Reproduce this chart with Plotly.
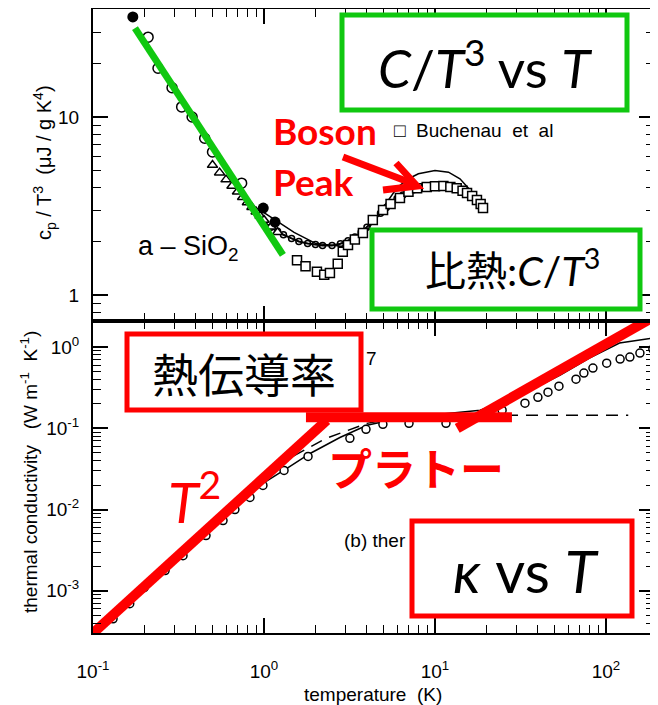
import plotly.graph_objects as go

# ---------------- data: top panel  (C/T^3 vs T) ----------------
t_fill = [0.171, 0.99, 1.16]
c_fill = [36.5, 3.08, 2.57]

t_open = [0.21, 0.24, 0.29, 0.33, 0.38, 0.45, 0.50, 0.74]
c_open = [28.1, 18.8, 14.6, 11.4, 10.0, 7.6, 6.36, 4.25]

t_tri = [0.50, 0.55, 0.60, 0.65, 0.70, 0.75, 0.80, 0.85, 0.90, 0.95, 1.00, 1.10, 1.20]
c_tri = [5.37, 4.87, 4.45, 4.10, 3.80, 3.54, 3.31, 3.11, 2.94, 2.78, 2.64, 2.42, 2.25]

t_dense = [1.0, 1.1, 1.2, 1.3, 1.45, 1.6, 1.8, 2.0, 2.2, 2.5, 2.8, 3.1, 3.4, 3.7,
           4.0, 4.4, 4.8, 5.2, 5.6, 6.0, 6.5, 7.0, 7.5, 8.0]
c_dense = [2.55, 2.40, 2.28, 2.18, 2.08, 2.00, 1.95, 1.92, 1.90, 1.90, 1.94, 2.02, 2.12, 2.25,
           2.40, 2.62, 2.88, 3.10, 3.30, 3.48, 3.65, 3.80, 3.90, 3.98]

t_sq = [1.56, 1.75, 2.04, 2.25, 2.43, 2.70, 2.89, 3.10, 3.40, 3.79, 4.33, 4.97, 5.5, 6.24,
        7.0, 7.86, 8.95, 10.0, 11.2, 12.3, 13.4, 14.5, 15.4, 16.5, 17.6, 18.5, 19.1]
c_sq = [1.57, 1.45, 1.35, 1.30, 1.33, 1.50, 1.75, 1.91, 2.05, 2.23, 2.64, 3.00, 3.25, 3.51,
        3.80, 3.98, 4.05, 4.08, 4.10, 4.05, 3.98, 3.85, 3.74, 3.60, 3.42, 3.25, 3.08]

t_fit = [1.0, 1.5, 2.0, 3.0, 4.0, 5.0, 6.0, 7.0, 8.0, 10.0, 12.0, 14.0, 16.0, 18.0, 20.0]
c_fit = [2.9, 2.25, 1.95, 1.87, 2.3, 3.1, 4.0, 4.5, 4.8, 5.0, 4.9, 4.5, 3.9, 3.5, 3.2]

t_green = [0.176, 1.29]
c_green = [31.6, 1.68]

# ---------------- data: bottom panel (kappa vs T) ----------------
t_k = [0.131, 0.164, 0.199, 0.264, 0.336, 0.458, 0.576, 0.676, 0.828, 0.986, 1.31, 1.81,
       3.18, 3.95, 4.96, 7.05, 11.6, 24.7, 33.6, 40.0, 45.8, 53.1, 66.8, 74.3, 83.9,
       101, 121, 138, 158, 188]
k_k = [4.51e-4, 6.92e-4, 1.09e-3, 1.77e-3, 2.70e-3, 4.78e-3, 7.31e-3, 1.0e-2, 1.41e-2,
       1.98e-2, 3.03e-2, 4.51e-2, 7.53e-2, 9.72e-2, 0.112, 0.115, 0.115, 0.167, 0.204,
       0.241, 0.278, 0.330, 0.403, 0.478, 0.551, 0.634, 0.711, 0.753, 0.843, 0.945]

t_ksolid = [0.1, 0.2, 0.5, 0.986, 1.42, 1.86, 2.78, 4.0, 6.2, 10.7, 18.4, 31.5, 54, 80, 120, 191]
k_ksolid = [2.6e-4, 1.05e-3, 6.2e-3, 2.1e-2, 0.034, 0.049, 0.077, 0.109, 0.133, 0.149, 0.167,
            0.255, 0.451, 0.731, 1.12, 1.30]

t_kdash = [1.0, 1.24, 2.3, 4.0, 6.0, 10.0, 20.0, 50.0, 135.0]
k_kdash = [0.022, 0.037, 0.075, 0.115, 0.135, 0.145, 0.145, 0.145, 0.145]

t_red1 = [0.096, 2.33]
k_red1 = [2.78e-4, 0.1256]
t_red2 = [1.76, 28.2]
k_red2 = [0.137, 0.137]
t_red3 = [13.5, 199]
k_red3 = [0.10, 2.48]

# ---------------- ticks ----------------
x_major = [0.1, 1, 10, 100]
x_major_text = ["10<sup>-1</sup>", "10<sup>0</sup>", "10<sup>1</sup>", "10<sup>2</sup>"]
x_minor = [0.2, 0.3, 0.4, 0.5, 0.6, 0.7, 0.8, 0.9, 2, 3, 4, 5, 6, 7, 8, 9,
           20, 30, 40, 50, 60, 70, 80, 90]
ytop_major = [1, 10]
ytop_text = ["1", "10"]
ytop_minor = [0.8, 0.9, 2, 3, 4, 5, 6, 7, 8, 9, 20, 30]
ybot_major = [1e-3, 1e-2, 1e-1, 1]
ybot_text = ["10<sup>-3</sup>", "10<sup>-2</sup>", "10<sup>-1</sup>", "10<sup>0</sup>"]
ybot_minor = [m * d for d in (1e-4, 1e-3, 1e-2, 1e-1) for m in range(2, 10) if m * d >= 3e-4] + [2]

GREEN = "#10c810"
RED = "#ff0000"
SCAN = "Liberation Sans, Arial, sans-serif"
BIG = "Lato, Noto Sans CJK JP, sans-serif"
CJK = "Noto Sans CJK JP, sans-serif"

# the page body has an 8px margin, so the figure is drawn 8px smaller and offset
OFF = 8
W, H = 658 - OFF, 705 - OFF
# plot frame in window pixels: x 93..654, y 9..633
L, R, T0, B0 = 93, 654, 9, 633
def X(px):
    return (px - L) / (R - L)
def Y(py):
    return (B0 - py) / (B0 - T0)

fig = go.Figure()

top = dict(xaxis="x2", yaxis="y2")
bot = dict(xaxis="x", yaxis="y")

fig.add_trace(go.Scatter(x=t_fit, y=c_fit, mode="lines", line=dict(color="black", width=1.5), **top))
fig.add_trace(go.Scatter(x=t_dense, y=c_dense, mode="markers+lines",
                         line=dict(color="black", width=2),
                         marker=dict(symbol="circle-open", size=6, color="black", line=dict(width=1.5)), **top))
fig.add_trace(go.Scatter(x=t_tri, y=c_tri, mode="markers",
                         marker=dict(symbol="triangle-up", size=9, color="white",
                                     line=dict(color="black", width=1.5)), **top))
fig.add_trace(go.Scatter(x=t_open, y=c_open, mode="markers",
                         marker=dict(symbol="circle", size=10, color="white",
                                     line=dict(color="black", width=1.5)), **top))
fig.add_trace(go.Scatter(x=t_sq, y=c_sq, mode="markers",
                         marker=dict(symbol="square", size=9, color="white",
                                     line=dict(color="black", width=1.5)), **top))
fig.add_trace(go.Scatter(x=t_fill, y=c_fill, mode="markers",
                         marker=dict(symbol="circle", size=11, color="black"), **top))
fig.add_trace(go.Scatter(x=t_green, y=c_green, mode="lines",
                         line=dict(color=GREEN, width=7), **top))

fig.add_trace(go.Scatter(x=t_ksolid, y=k_ksolid, mode="lines", line=dict(color="black", width=1.5), **bot))
fig.add_trace(go.Scatter(x=t_kdash, y=k_kdash, mode="lines",
                         line=dict(color="black", width=1.5, dash="12px,8px"), **bot))
fig.add_trace(go.Scatter(x=t_k, y=k_k, mode="markers",
                         marker=dict(symbol="circle", size=8, color="white",
                                     line=dict(color="black", width=1.5)), **bot))
for tx, ky in ((t_red1, k_red1), (t_red2, k_red2), (t_red3, k_red3)):
    fig.add_trace(go.Scatter(x=tx, y=ky, mode="lines", line=dict(color=RED, width=10), **bot))

axis_common = dict(type="log", showline=True, linecolor="black", linewidth=2, mirror="ticks",
                   ticks="inside", ticklen=15, tickwidth=1.5, tickcolor="black",
                   showgrid=False, zeroline=False, automargin=False,
                   tickfont=dict(family=SCAN, size=19, color="black"))
minor_common = dict(ticks="inside", ticklen=8, tickwidth=1.2, tickcolor="black", showgrid=False)

fig.update_layout(
    width=W, height=H,
    margin=dict(l=L - OFF, r=W - (R - OFF), t=T0 - OFF, b=H - (B0 - OFF), autoexpand=False),
    paper_bgcolor="white", plot_bgcolor="white",
    showlegend=False,
    xaxis=dict(axis_common, range=[-1, 2.281], domain=[0, 1], anchor="y",
               tickmode="array", tickvals=x_major, ticktext=x_major_text,
               ticklabelstandoff=20,
               minor=dict(minor_common, tickmode="array", tickvals=x_minor)),
    yaxis=dict(axis_common, range=[-3.52, 0.321], domain=[0, 0.5], anchor="x",
               tickmode="array", tickvals=ybot_major, ticktext=ybot_text,
               ticklabelstandoff=8,
               minor=dict(minor_common, tickmode="array", tickvals=ybot_minor)),
    xaxis2=dict(axis_common, range=[-1, 2.281], domain=[0, 1], anchor="y2",
                tickmode="array", tickvals=x_major, showticklabels=False,
                minor=dict(minor_common, tickmode="array", tickvals=x_minor)),
    yaxis2=dict(axis_common, range=[-0.146, 1.607], domain=[0.5, 1], anchor="x2",
                tickmode="array", tickvals=ytop_major, ticktext=ytop_text,
                ticklabelstandoff=8,
                minor=dict(minor_common, tickmode="array", tickvals=ytop_minor)),
)

def box(x0, y0, x1, y1, color):
    fig.add_shape(type="rect", xref="paper", yref="paper",
                  x0=X(x0), x1=X(x1), y0=Y(y1), y1=Y(y0),
                  line=dict(color=color, width=5), fillcolor="white", layer="above")

box(342, 15, 627, 110, GREEN)
box(372, 230, 640, 309, GREEN)
box(127, 334, 361, 410, RED)
box(412, 521, 632, 616, RED)

# Boson peak arrow
fig.add_shape(type="line", xref="paper", yref="paper", x0=X(343), y0=Y(157), x1=X(414), y1=Y(184),
              line=dict(color=RED, width=7), layer="above")
fig.add_shape(type="path", xref="paper", yref="paper",
              path=f"M {X(396)},{Y(163)} L {X(417)},{Y(186)} L {X(383)},{Y(190)}",
              line=dict(color=RED, width=7), layer="above")

def ann(text, x, y, size, family, color="black", xanchor="center", yanchor="middle", angle=0):
    fig.add_annotation(text=text, xref="paper", yref="paper", x=X(x), y=Y(y),
                       xanchor=xanchor, yanchor=yanchor, showarrow=False, textangle=angle,
                       font=dict(family=family, size=size, color=color))

ann("<i>C</i>/<i>T</i><sup>3</sup> vs <i>T</i>", 485, 64, 53, BIG)
ann("比熱:<i>C</i>/<i>T</i><sup>3</sup>", 512, 268, 41, BIG)
ann("熱伝導率", 244, 372, 46, CJK)
ann("<i>κ</i> vs <i>T</i>", 526, 570, 58, BIG)
ann("<b>Boson</b>", 271, 131, 37, BIG, color=RED, xanchor="left")
ann("<b>Peak</b>", 271, 181, 37, BIG, color=RED, xanchor="left")
ann("<b>プラトー</b>", 416, 467, 44, CJK, color=RED)
ann("<i>T</i><sup>2</sup>", 166, 497, 56, BIG, color=RED, xanchor="left")
ann("a – SiO<sub>2</sub>", 136, 248, 27, SCAN, xanchor="left")
ann("□  Buchenau  et  al", 392, 131, 19, SCAN, xanchor="left")
ann("(b) ther", 342, 540, 19, SCAN, xanchor="left")
ann("7", 364, 358, 19, SCAN, xanchor="left")

ann("c<sub>p</sub> / T<sup>3</sup>  (μJ / g K<sup>4</sup>)", 44, 163, 20, SCAN, angle=-90)
ann("thermal conductivity   (W m<sup>-1</sup>  K<sup>-1</sup>)", 29, 472, 19, SCAN, angle=-90)
ann("temperature  (K)", 373, 694, 19, SCAN)

fig.write_html("out.html")
